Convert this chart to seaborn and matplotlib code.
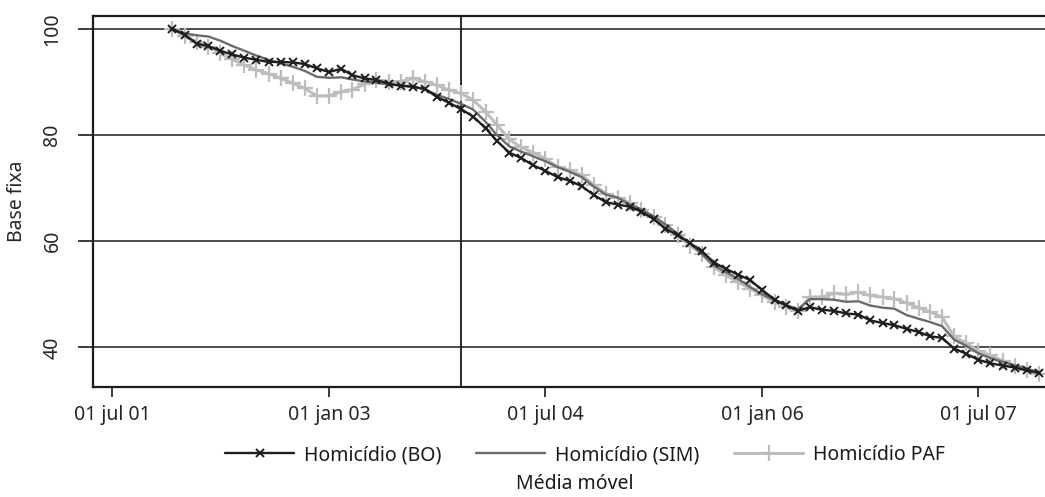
import seaborn as sns
import matplotlib.pyplot as plt
import matplotlib.dates as mdates
from matplotlib.ticker import FuncFormatter
import pandas as pd

# --- DATA (monthly moving average, index Dec 2001 = 100) ---
start_month = '2001-12-01'
n_months = 73

homicidio_bo = [
    100.0, 98.9, 97.2, 96.8, 95.9, 95.2, 94.6, 94.2, 93.8, 93.8,
    93.7, 93.4, 92.6, 91.9, 92.5, 91.3, 90.7, 90.4, 89.7, 89.3,
    89.1, 88.7, 87.2, 86.1, 84.9, 83.5, 81.3, 78.9, 76.7, 75.7,
    74.3, 73.3, 72.1, 71.4, 70.4, 68.7, 67.4, 66.9, 66.5, 65.6,
    64.2, 62.4, 61.1, 59.7, 58.1, 56.0, 54.8, 53.7, 52.7, 50.8,
    49.0, 48.0, 46.9, 47.6, 47.1, 46.9, 46.4, 46.2, 45.1, 44.6,
    44.2, 43.5, 42.9, 42.1, 41.8, 39.8, 38.8, 37.7, 37.0, 36.6,
    36.2, 35.7, 35.2,
]
homicidio_sim = [
    100.0, 99.2, 98.8, 98.6, 97.8, 96.8, 95.9, 95.0, 94.2, 93.5,
    92.9, 92.1, 91.0, 90.8, 90.9, 90.5, 90.1, 89.9, 89.5, 89.4,
    89.2, 88.6, 87.6, 86.8, 85.9, 84.8, 82.5, 80.0, 77.9, 76.9,
    76.0, 75.1, 74.0, 73.1, 72.1, 70.3, 68.8, 68.2, 66.9, 66.0,
    64.7, 63.2, 61.4, 59.7, 57.6, 55.4, 54.2, 52.9, 51.4, 50.0,
    48.9, 48.0, 47.2, 49.1, 49.1, 49.0, 48.6, 48.7, 47.9, 47.5,
    47.3, 46.1, 45.4, 44.8, 44.0, 41.5, 40.3, 38.9, 38.0, 37.3,
    36.6, 36.0, 35.3,
]
homicidio_paf = [
    100.0, 98.6, 97.6, 96.7, 95.4, 94.3, 93.2, 92.3, 91.6, 90.7,
    89.8, 88.8, 87.4, 87.4, 88.2, 88.6, 89.6, 90.4, 90.1, 90.1,
    90.7, 90.1, 89.4, 88.5, 87.9, 86.6, 84.4, 81.9, 79.2, 77.7,
    76.7, 75.6, 74.0, 73.4, 72.5, 70.6, 69.0, 68.2, 67.2, 65.9,
    64.6, 63.0, 61.1, 59.2, 57.7, 55.1, 53.6, 52.3, 51.1, 49.8,
    48.5, 47.7, 46.8, 49.5, 49.5, 50.2, 50.0, 50.4, 49.8, 49.5,
    49.2, 48.4, 47.5, 46.7, 45.7, 42.1, 40.8, 39.4, 38.5, 37.5,
    36.6, 35.8, 35.0,
]

series_names = ['Homicídio (BO)', 'Homicídio (SIM)', 'Homicídio PAF']
x_tick_dates = ['2001-07-01', '2003-01-01', '2004-07-01', '2006-01-01', '2007-07-01']
y_ticks = [40, 60, 80, 100]
event_date = '2003-12-01'
meses = ['jan', 'fev', 'mar', 'abr', 'mai', 'jun',
         'jul', 'ago', 'set', 'out', 'nov', 'dez']


def fmt_data(v, pos):
    d = mdates.num2date(v)
    return f"{d.day:02d} {meses[d.month - 1]} {d.year % 100:02d}"


def main():
    df = pd.DataFrame({
        'mes': pd.date_range(start_month, periods=n_months, freq='MS'),
        series_names[0]: homicidio_bo,
        series_names[1]: homicidio_sim,
        series_names[2]: homicidio_paf,
    })

    sns.set_style('white')
    plt.rcParams['font.family'] = ['Noto Sans', 'DejaVu Sans']
    plt.rcParams['text.color'] = '#1a1a1a'

    fig = plt.figure(figsize=(10.45, 4.97), dpi=100)
    ax = fig.add_axes([93 / 1045, 1 - 387 / 497, 1 - 93 / 1045, (387 - 16) / 497])

    # horizontal grid and event line
    for yv in y_ticks:
        ax.axhline(yv, color='#1a1a1a', lw=1.1, zorder=1)
    ax.axvline(pd.Timestamp(event_date), color='#1a1a1a', lw=1.3, zorder=1)

    # lines (PAF lowest, BO on top)
    styles = {
        series_names[2]: dict(color='#bdbdbd', lw=2.2, marker='+', markersize=11,
                              markeredgewidth=1.6, markeredgecolor='#bdbdbd', zorder=3),
        series_names[1]: dict(color='#6b6b6b', lw=1.7, zorder=4),
        series_names[0]: dict(color='#1e1e1e', lw=1.7, marker='x', markersize=6,
                              markeredgewidth=1.4, markeredgecolor='#1e1e1e', zorder=5),
    }
    handles = {}
    for name in [series_names[2], series_names[1], series_names[0]]:
        sns.lineplot(data=df, x='mes', y=name, ax=ax, **styles[name])
        handles[name] = ax.lines[-1]

    # axes limits and ticks
    x_left = pd.Timestamp('2001-07-01') - pd.Timedelta(days=48)
    x_right = pd.Timestamp('2007-07-01') + pd.Timedelta(days=169)
    ax.set_xlim(x_left, x_right)
    ax.set_ylim(32.55, 102.45)

    ax.set_xticks([pd.Timestamp(d) for d in x_tick_dates])
    ax.xaxis.set_major_formatter(FuncFormatter(fmt_data))
    ax.set_yticks(y_ticks)
    ax.set_yticklabels([str(v) for v in y_ticks], rotation=90, va='center')

    ax.tick_params(axis='x', direction='out', length=7, width=1.2, pad=6,
                   labelsize=14, color='#1a1a1a', bottom=True)
    ax.tick_params(axis='y', direction='out', length=11, width=1.2, pad=11,
                   labelsize=14, color='#1a1a1a', left=True)

    for side in ['left', 'bottom', 'top']:
        ax.spines[side].set_color('#1a1a1a')
        ax.spines[side].set_linewidth(1.6)
    ax.spines['right'].set_visible(False)

    ax.set_xlabel('')
    ax.set_ylabel('Base fixa', fontsize=14)
    ax.yaxis.set_label_coords(-0.069, 0.5)

    # legend below the plot
    fig.legend([handles[n] for n in series_names], series_names, loc='center',
               bbox_to_anchor=(585 / 1045, 1 - 455 / 497), ncol=3,
               frameon=False, fontsize=14, handlelength=3.55,
               handletextpad=0.5, columnspacing=1.8, numpoints=1)

    fig.text(575 / 1045, 1 - 484 / 497, 'Média móvel', ha='center',
             va='center', fontsize=14)

    fig.savefig('out.png', dpi=100)


if __name__ == "__main__":
    main()
